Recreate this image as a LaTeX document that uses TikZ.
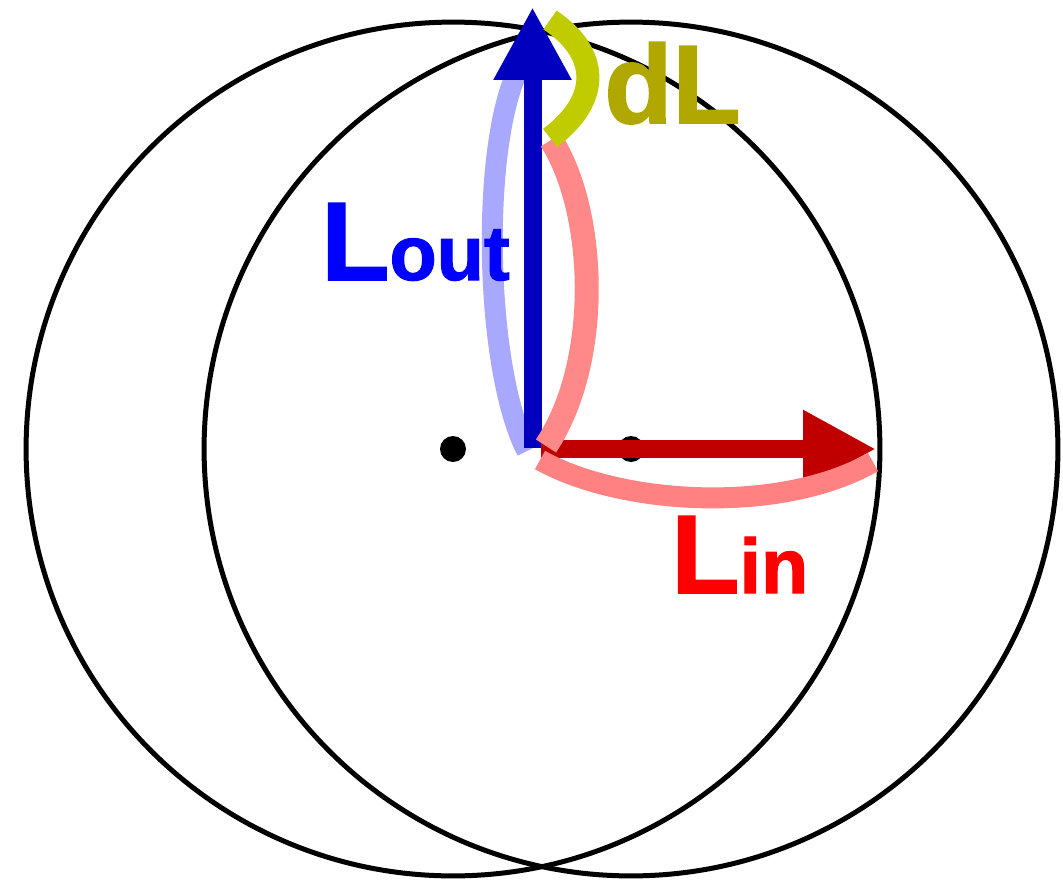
\documentclass[tikz,border=0pt]{standalone}
\usepackage{fontspec}
\setmainfont{Liberation Sans}[BoldFeatures={FakeBold=1.5}]
\usetikzlibrary{arrows.meta}
\definecolor{arrblue}{RGB}{0,0,190}
\definecolor{arcblue}{RGB}{168,168,255}
\definecolor{arcpink}{RGB}{255,136,136}
\definecolor{arrred}{RGB}{192,0,0}
\definecolor{arcyellow}{RGB}{192,204,0}
\definecolor{dlolive}{RGB}{176,168,0}
\definecolor{lblue}{RGB}{0,0,255}
\definecolor{lred}{RGB}{255,0,0}
\newcommand{\bigsize}{\fontsize{63.5}{70}\selectfont}
\newcommand{\subsize}{\fontsize{44}{50}\selectfont}

\begin{document}
\begin{tikzpicture}[x=0.02cm, y=-0.02cm,
    ring/.style={line width=0.1cm},
    vec/.style={line width=0.36cm, -{Triangle[length=1.46cm, width=1.46cm]}},
    band/.style={line width=0.42cm},
    lbl/.style={inner sep=0pt, anchor=base west, font=\bfseries\bigsize}]
    \useasboundingbox (0,0) rectangle (1063,880);

    % Circles and their centres
    \coordinate (cl) at (453,449);
    \coordinate (cr) at (631,449);
    \draw[ring] (cl) circle [radius=8.54cm];
    \draw[ring] (cr) circle [radius=8.54cm];
    \fill (cl) circle [radius=0.26cm];
    \fill (cr) circle [radius=0.26cm];

    % Vectors
    \coordinate (ob) at (532.5,448);
    \coordinate (or) at (541,449);
    \coordinate (tipup) at (532.5,7);
    \coordinate (tipright) at (876,449);
    \draw[band, arcblue] (527,451) .. controls (485,370) and (480,150) .. (518,70);
    \draw[vec, arrblue] (ob) -- (tipup);
    \draw[vec, arrred] (or) -- (tipright);
    \draw[band, line width=0.48cm, arcpink] (546,446) .. controls (603,360) and (596,210) .. (551,140);
    \draw[band, arcpink!95!red] (540,460) .. controls (620,505) and (780,515) .. (873,462);
    \draw[band, line width=0.46cm, arcyellow] (550,20) .. controls (598,52) and (603,98) .. (550,138);

    % Labels
    \node[lbl, text=lblue] (lout) at (321,280) {L{\subsize out}};
    \node[lbl, text=dlolive] (dl) at (604,123) {dL};
    \node[lbl, text=lred] (lin) at (671,593) {L{\subsize in}};
\end{tikzpicture}
\end{document}
